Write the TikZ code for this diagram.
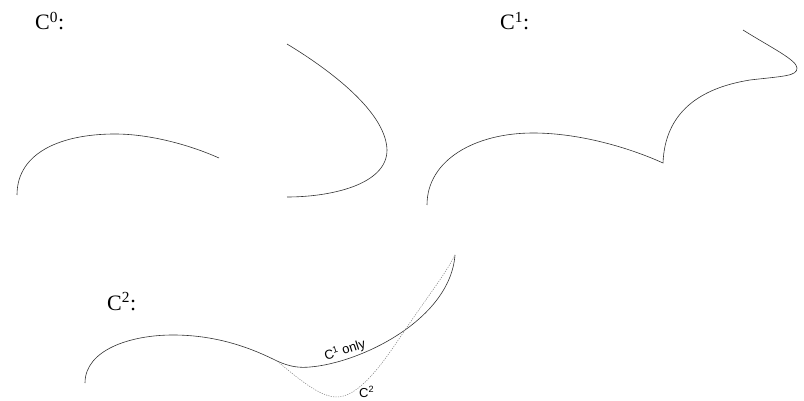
\documentclass[tikz,border=0pt]{standalone}
\usepackage{fontspec}
\setmainfont{Liberation Serif}
\newfontfamily\labelfont{Liberation Sans}
\usepackage{tikz}

\tikzset{
    curve/.style={line width=0.6pt, black!80},
    dotcurve/.style={line width=0.5pt, gray, dash pattern=on 1.2pt off 1.2pt},
    heading/.style={anchor=base west, inner sep=0pt, font=\fontsize{22}{24}\selectfont},
    tag/.style={inner sep=0pt, font=\labelfont\fontsize{13}{14}\selectfont}
}

\begin{document}
\begin{tikzpicture}[x=1pt, y=-1pt]
            \useasboundingbox (0,0) rectangle (804,401);
            % C^0
            \node[heading] (czero) at (35,30) {C\textsuperscript{0}:};
            \draw[curve] (17,195) .. controls (17,152) and (62,134) .. (115,134)
                .. controls (150,134) and (190,145) .. (219,158);
            \draw[curve] (287,44) .. controls (330,70) and (386,112) .. (387,150)
                .. controls (387,185) and (330,197) .. (287,197);
            % C^1
            \node[heading] (cone) at (500,30) {C\textsuperscript{1}:};
            \draw[curve] (427,205) .. controls (427,160) and (475,133) .. (533,133)
                .. controls (580,133) and (630,148) .. (663,163)
                .. controls (665,112) and (700,88) .. (750,80)
                .. controls (785,76) and (797,76) .. (797,68)
                .. controls (797,60) and (770,47) .. (743,30);
            % C^2
            \node[heading] (ctwo) at (107,310) {C\textsuperscript{2}:};
            \coordinate (split) at (277,361);
            \coordinate (join) at (455,255);
            \draw[curve] (85,383) .. controls (85,350) and (130,335) .. (173,335)
                .. controls (220,335) and (255,350) .. (split)
                .. controls (290,367) and (300,368) .. (310,367)
                .. controls (360,363) and (450,320) .. (join);
            \draw[dotcurve] (split) .. controls (300,380) and (320,397) .. (337,397)
                .. controls (362,397) and (390,352) .. (403,333)
                .. controls (425,300) and (445,275) .. (join);
            \node[tag, rotate=18] (conly) at (345,350) {C\textsuperscript{1} only};
            \node[tag, anchor=west] (ctwotag) at (359,392) {C\textsuperscript{2}};
\end{tikzpicture}
\end{document}
